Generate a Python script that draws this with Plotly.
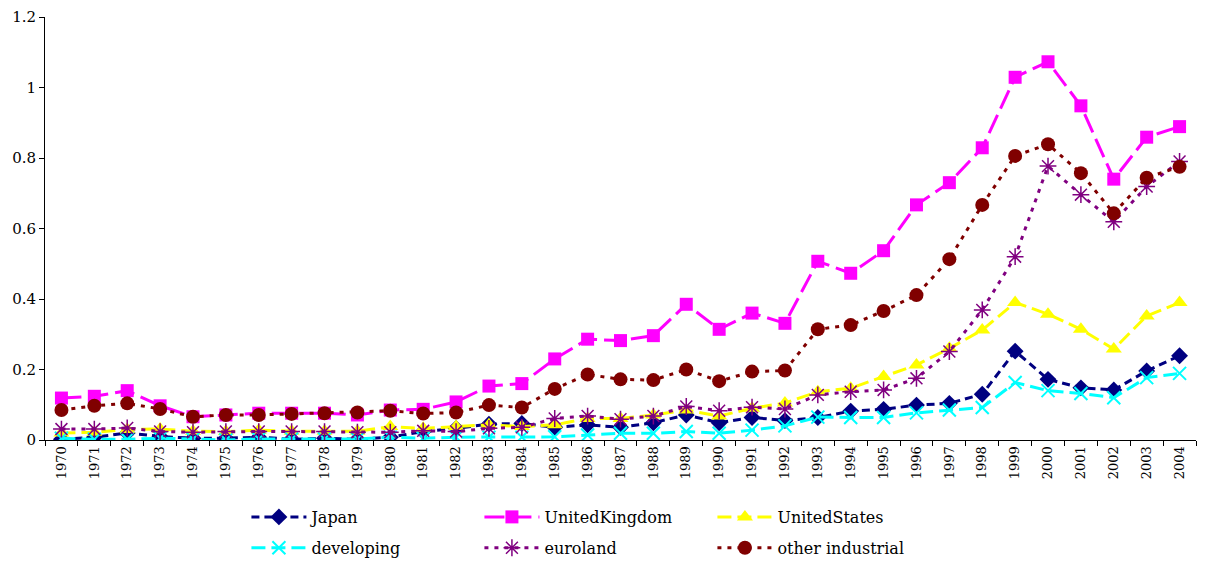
import plotly.graph_objects as go

years = [str(y) for y in range(1970, 2005)]

japan = [0.002, 0.008, 0.02, 0.01, 0.005, 0.005, 0.008, 0.002, 0.005, 0.002, 0.008, 0.024,
         0.033, 0.045, 0.047, 0.036, 0.043, 0.036, 0.049, 0.071, 0.049, 0.064, 0.055,
         0.064, 0.082, 0.087, 0.099, 0.104, 0.130, 0.252, 0.172, 0.148, 0.142, 0.196, 0.239]
united_kingdom = [0.119, 0.124, 0.140, 0.097, 0.066, 0.071, 0.076, 0.076, 0.076, 0.071, 0.085, 0.087,
                  0.108, 0.153, 0.160, 0.230, 0.286, 0.282, 0.296, 0.385, 0.314, 0.360, 0.331,
                  0.507, 0.473, 0.537, 0.667, 0.730, 0.829, 1.029, 1.073, 0.948, 0.740, 0.859, 0.889]
united_states = [0.02, 0.022, 0.03, 0.031, 0.025, 0.024, 0.028, 0.025, 0.025, 0.025, 0.038, 0.033,
                 0.038, 0.043, 0.038, 0.043, 0.061, 0.061, 0.071, 0.085, 0.068, 0.090, 0.105,
                 0.137, 0.147, 0.180, 0.213, 0.260, 0.312, 0.390, 0.357, 0.314, 0.258, 0.352, 0.390]
developing = [0.005, 0.002, 0.002, 0.005, 0.003, 0.0, 0.003, 0.003, 0.003, 0.003, 0.008, 0.005,
              0.008, 0.008, 0.008, 0.009, 0.014, 0.019, 0.019, 0.024, 0.019, 0.028, 0.040,
              0.065, 0.064, 0.064, 0.077, 0.085, 0.092, 0.163, 0.140, 0.132, 0.120, 0.177, 0.189]
euroland = [0.031, 0.031, 0.034, 0.024, 0.022, 0.024, 0.024, 0.024, 0.024, 0.022, 0.022, 0.026,
            0.024, 0.033, 0.036, 0.061, 0.068, 0.059, 0.068, 0.095, 0.083, 0.093, 0.088,
            0.128, 0.137, 0.142, 0.175, 0.251, 0.369, 0.520, 0.777, 0.696, 0.619, 0.719, 0.790]
other_industrial = [0.085, 0.097, 0.104, 0.088, 0.066, 0.071, 0.071, 0.074, 0.076, 0.078, 0.083, 0.075,
                    0.078, 0.099, 0.092, 0.145, 0.186, 0.172, 0.170, 0.200, 0.167, 0.194, 0.197,
                    0.314, 0.326, 0.366, 0.411, 0.513, 0.667, 0.806, 0.839, 0.757, 0.643, 0.744, 0.775]

y_ticks = [0, 0.2, 0.4, 0.6, 0.8, 1, 1.2]
y_tick_labels = ["0", "0.2", "0.4", "0.6", "0.8", "1", "1.2"]

series = [
    ("Japan", japan, "#000080", "8px,5px", dict(symbol="diamond", size=13, color="#000080"), "legend"),
    ("UnitedKingdom", united_kingdom, "#FF00FF", "20px,7px", dict(symbol="square", size=13, color="#FF00FF"), "legend"),
    ("UnitedStates", united_states, "#FFFF00", "14px,6px", dict(symbol="triangle-up", size=14, color="#FFFF00"), "legend"),
    ("developing", developing, "#00FFFF", "14px,6px",
     dict(symbol="x-thin-open", size=13, color="#00FFFF", line=dict(color="#00FFFF", width=2)), "legend2"),
    ("euroland", euroland, "#800080", "4px,6px",
     dict(symbol="asterisk-open", size=14, color="#800080", line=dict(color="#800080", width=1.5)), "legend2"),
    ("other industrial", other_industrial, "#800000", "4px,6px", dict(symbol="circle", size=14, color="#800000"), "legend2"),
]

fig = go.Figure()
for name, vals, color, dash, marker, leg in series:
    fig.add_trace(go.Scatter(
        x=years, y=vals, name=name, mode="lines+markers",
        line=dict(color=color, width=3, dash=dash),
        marker=marker, legend=leg,
    ))

font_family = "DejaVu Serif"
legend_common = dict(
    orientation="h", xanchor="left", yanchor="middle",
    entrywidth=163, entrywidthmode="pixels",
    font=dict(family=font_family, size=16, color="black"),
    bgcolor="rgba(0,0,0,0)", itemwidth=55,
)

# page body has an 8px margin, so the figure is 8px smaller than the window
fig.update_layout(
    width=1197, height=553,
    margin=dict(l=37, r=9, t=9, b=121, autoexpand=False),
    plot_bgcolor="white", paper_bgcolor="white",
    font=dict(family=font_family, size=14, color="black"),
    showlegend=True,
    legend=dict(x=0.175, y=-0.182, **legend_common),
    legend2=dict(x=0.175, y=-0.255, **legend_common),
)
fig.update_xaxes(
    type="category", range=[-0.5, 34.5],
    showline=True, linecolor="black", linewidth=1,
    ticks="outside", ticklen=5, tickcolor="black", tickson="boundaries",
    tickangle=-90, showgrid=False, zeroline=False,
    tickfont=dict(family=font_family, size=13, color="black"),
)
fig.update_yaxes(
    range=[0, 1.2], tickvals=y_ticks, ticktext=y_tick_labels,
    showline=True, linecolor="black", linewidth=1,
    ticks="outside", ticklen=5, tickcolor="black",
    showgrid=False, zeroline=False,
    tickfont=dict(family=font_family, size=15, color="black"),
)

fig.write_html("out.html")
